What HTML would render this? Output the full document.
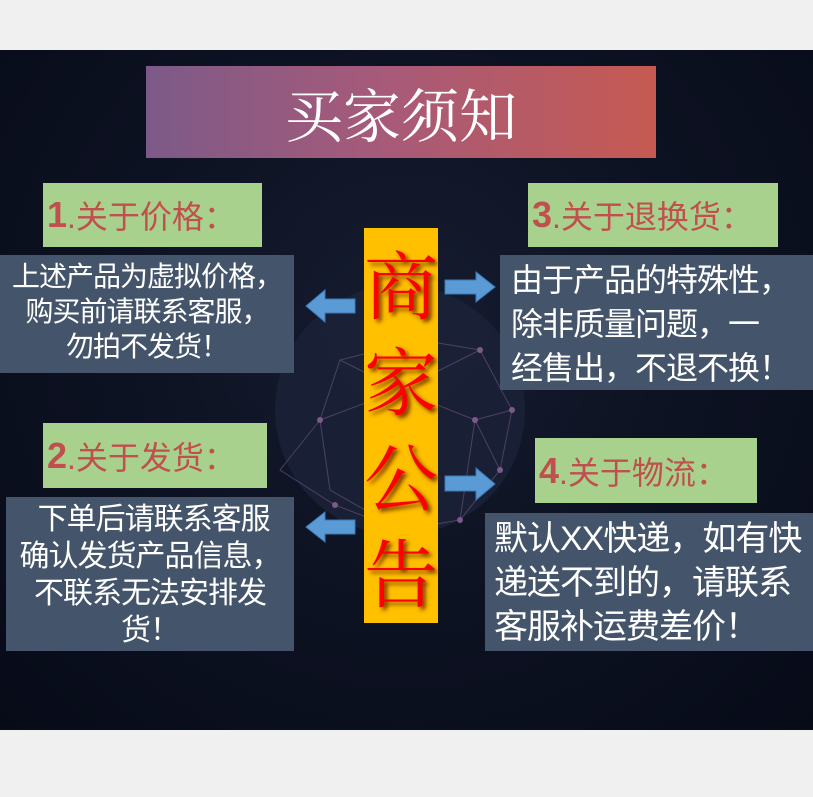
<!DOCTYPE html>
<html><head><meta charset="utf-8"><style>
body{margin:0;width:813px;height:797px;background:#f0f0f0;position:relative;overflow:hidden;font-family:"Liberation Sans","Noto Sans CJK SC",sans-serif}
.bg{position:absolute;left:0;top:50px;width:813px;height:680px;background:radial-gradient(ellipse at 50% 40%,#161c30 0%,#0d1222 50%,#070b18 100%)}
.abs{position:absolute;box-sizing:border-box}
.title{left:146px;top:66px;width:510px;height:92px;background:linear-gradient(90deg,#7c5a88,#a65a7a 45%,#c65a52);color:#fff;font-family:"Noto Serif CJK SC",serif;font-size:58px;text-align:center;line-height:92px}
.g{background:#a9d18e;color:#c0504d;font-size:32px;padding-left:4px;display:flex;align-items:center;white-space:nowrap}
.g b{font-family:"Liberation Sans",sans-serif;font-weight:bold;font-size:36px}
.s{background:#44546a;color:#fff;text-align:center;letter-spacing:-1px}
.bar{left:364px;top:228px;width:74px;height:395px;background:#ffc000;color:#f00;font-family:"Noto Serif CJK SC",serif;font-size:74px;text-align:center;line-height:96px;padding-top:6px;text-shadow:3px 3px 4px #7a3a00}
</style></head><body>
<div class="bg"></div>
<svg class="abs" style="left:0;top:50px" width="813" height="680">
<circle cx="400" cy="360" r="125" fill="#1c2238" opacity="0.8"/>
<g stroke="#5a4a6e" stroke-width="1" fill="none" opacity="0.8">
<polyline points="320,370 340,310 420,290 480,300 512,360 500,420 460,470 400,480 335,455 280,420 320,370"/>
<polyline points="340,310 400,340 480,300"/><polyline points="400,340 420,290"/>
<polyline points="320,370 400,340 475,370 512,360"/><polyline points="475,370 500,420"/>
<polyline points="320,370 330,440 400,480"/><polyline points="475,370 460,470"/>
</g>
<g fill="#7a5a8a"><circle cx="320" cy="370" r="3"/><circle cx="475" cy="370" r="3"/><circle cx="512" cy="360" r="3"/><circle cx="500" cy="420" r="3"/><circle cx="335" cy="455" r="3"/><circle cx="460" cy="470" r="3"/><circle cx="480" cy="300" r="3"/></g>
</svg>
<div class="abs title">买家须知</div>
<div class="abs g" style="left:43px;top:183px;width:219px;height:64px"><b>1</b>.关于价格：</div>
<div class="abs g" style="left:528px;top:183px;width:250px;height:64px"><b>3</b>.关于退换货：</div>
<div class="abs g" style="left:43px;top:423px;width:224px;height:65px"><b>2</b>.关于发货：</div>
<div class="abs g" style="left:535px;top:438px;width:222px;height:65px"><b>4</b>.关于物流：</div>
<div class="abs s" style="left:0;top:255px;width:294px;height:118px;font-size:28px;line-height:35px;padding-top:4px;white-space:nowrap">上述产品为虚拟价格，<br>购买前请联系客服，<br>勿拍不发货！</div>
<div class="abs s" style="left:500px;top:255px;width:313px;height:135px;font-size:32px;line-height:44px;padding-top:3px;text-align:left;padding-left:11px;white-space:nowrap">由于产品的特殊性，<br>除非质量问题，一<br>经售出，不退不换！</div>
<div class="abs s" style="left:6px;top:497px;width:288px;height:154px;font-size:30px;line-height:37px;padding-top:4px;white-space:nowrap">&nbsp;下单后请联系客服<br>确认发货产品信息，<br>不联系无法安排发<br>货！</div>
<div class="abs s" style="left:485px;top:513px;width:328px;height:138px;font-size:34px;line-height:44px;padding-top:4px;text-align:left;padding-left:9px;white-space:nowrap">默认XX快递，如有快<br>递送不到的，请联系<br>客服补运费差价！</div>
<div class="abs bar">商<br>家<br>公<br>告</div>
<svg class="abs" style="left:0;top:0" width="813" height="797">
<g fill="#5b9bd5" stroke="#3a7ab8" stroke-width="1">
<polygon points="355,299 325,299 325,290 306,306 325,322 325,313 355,313"/>
<polygon points="445,280 476,280 476,272 495,287 476,302 476,294 445,294"/>
<polygon points="445,476 476,476 476,468 495,484 476,500 476,491 445,491"/>
<polygon points="355,520 325,520 325,512 306,527 325,542 325,534 355,534"/>
</g></svg>
</body></html>
